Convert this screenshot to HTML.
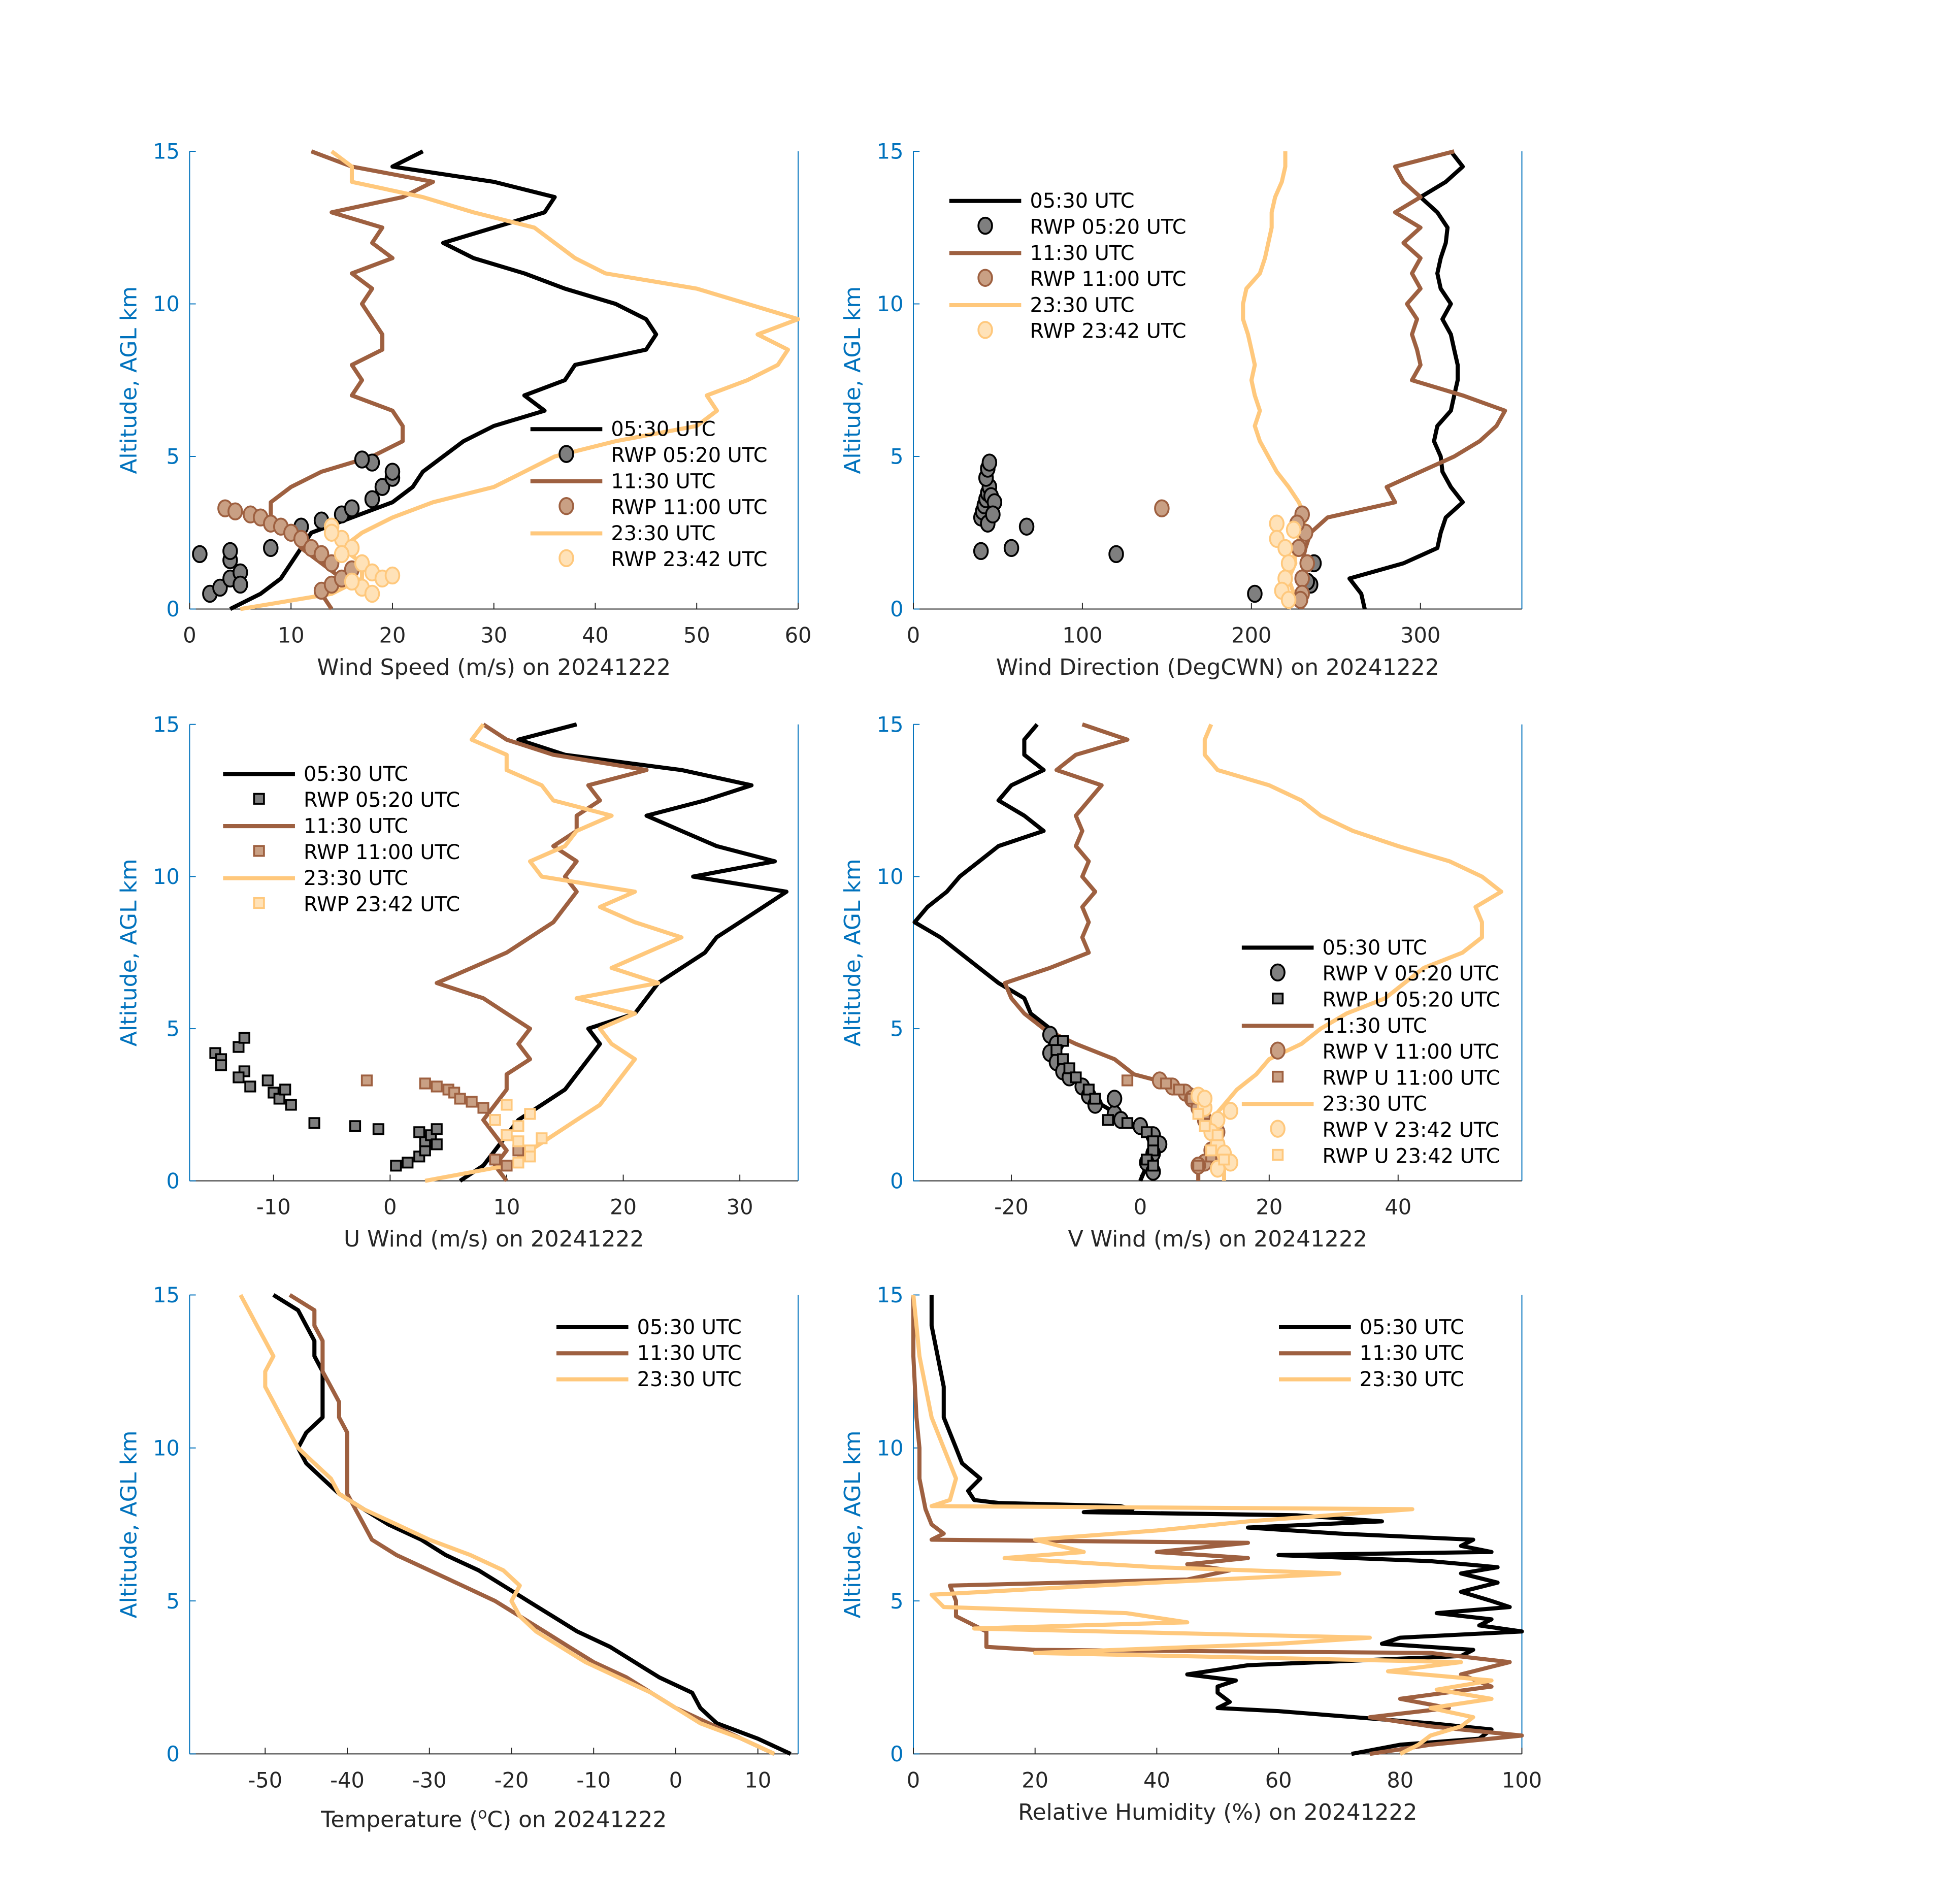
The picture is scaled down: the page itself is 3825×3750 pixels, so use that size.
<!DOCTYPE html>
<html><head><meta charset="utf-8">
<style>
html,body{margin:0;padding:0;background:#fff;}
svg{display:block;}
text{font-family:"DejaVu Sans","Liberation Sans",sans-serif;}
</style></head>
<body>
<svg id="fig" width="3825" height="3750" viewBox="0 0 1567 1535" preserveAspectRatio="none" xmlns="http://www.w3.org/2000/svg"></svg>
<script>
// ---- data ----
const alts = [0,0.5,1,1.5,2,2.5,3,3.5,4,4.5,5,5.5,6,6.5,7,7.5,8,8.5,9,9.5,10,10.5,11,11.5,12,12.5,13,13.5,14,14.5,15];
const spd0530 = [4,7,9,10,11,12,16,20,22,23,25,27,30,35,33,37,38,45,46,45,42,37,33,28,25,30,35,36,30,20,23];
const spd1130 = [14,13,15,13,11,10,8,8,10,13,18,21,21,20,16,17,16,19,19,18,17,18,16,20,18,19,14,21,24,16,12];
const spd2330 = [5,14,17,17,15,17,20,24,30,33,36,42,50,52,51,55,58,59,56,60,55,50,41,38,36,34,28,23,16,16,14];
const dir0530 = [267,265,258,290,310,312,315,325,318,313,312,308,310,318,320,322,322,320,318,313,318,312,310,312,315,316,310,300,315,325,318];
const dir1130 = [230,232,232,230,232,235,245,285,280,300,320,335,345,350,325,295,300,298,295,298,292,300,295,300,290,300,285,300,290,285,320];
const dir2330 = [222,225,222,226,225,230,232,228,222,215,210,205,202,205,202,200,202,200,198,195,195,197,205,208,210,212,212,214,218,220,220];
const u0530 = [6,8,9,10,11,13,15,16,17,18,17,21,22,23,25,27,28,30,32,34,26,33,28,25,22,27,31,25,15,11,16];
const u1130 = [10,9,10,9,8,9,10,10,12,11,12,10,8,4,7,10,12,14,15,16,15,16,14,16,16,18,17,22,14,10,8];
const u2330 = [3,10,12,14,16,18,19,20,21,19,18,21,16,23,19,22,25,21,18,21,13,12,15,16,19,14,13,10,10,7,8];
const v0530 = [0,1,2,1,-2,-6,-8,-10,-13,-14,-14,-17,-18,-22,-25,-28,-31,-35,-33,-30,-28,-25,-22,-15,-18,-22,-20,-15,-18,-18,-16];
const v1130 = [9,9,12,11,10,10,8,-1,-4,-10,-15,-18,-20,-21,-14,-8,-9,-8,-9,-7,-9,-8,-10,-9,-10,-8,-6,-13,-10,-2,-9];
const v2330 = [13,13,12,12,11,13,15,18,20,25,28,32,38,41,44,50,53,53,52,56,53,48,40,33,28,25,20,12,10,10,11];
const t0530 = [14,10,5,3,2,-2,-5,-8,-12,-15,-18,-21,-24,-28,-31,-35,-38,-41,-43,-45,-46,-45,-43,-43,-43,-43,-44,-44,-45,-46,-49];
const t1130 = [12,8,4,0,-3,-6,-10,-13,-16,-19,-22,-26,-30,-34,-37,-38,-39,-40,-40,-40,-40,-40,-41,-41,-42,-43,-43,-43,-44,-44,-47];
const t2330 = [12,8,3,0,-3,-7,-11,-14,-17,-19,-20,-19,-21,-25,-30,-34,-38,-41,-42,-44,-46,-47,-48,-49,-50,-50,-49,-50,-51,-52,-53];
const rhAlt0530 = [0,0.3,0.5,0.8,1.0,1.4,1.5,1.7,2.0,2.2,2.4,2.6,2.9,3.2,3.4,3.6,3.8,4.0,4.2,4.4,4.6,4.8,5.0,5.3,5.6,5.9,6.1,6.3,6.5,6.6,6.8,7.0,7.2,7.4,7.6,7.8,7.9,8.0,8.1,8.2,8.3,8.6,9.0,9.5,10,11,12,13,14,15];
const rh0530 = [72,80,93,95,85,60,50,52,50,50,53,45,55,90,92,77,80,100,93,95,86,98,95,90,96,90,96,85,60,95,90,92,70,55,77,63,28,36,34,14,10,9,11,8,7,5,5,4,3,3];
const rhAlt1130 = [0,0.3,0.6,0.9,1.2,1.5,1.8,2.2,2.6,3.0,3.3,3.4,3.5,4.0,4.5,5.0,5.5,5.7,6.0,6.2,6.4,6.6,6.9,7.0,7.2,7.5,8.0,9,10,11,13,15];
const rh1130 = [75,85,100,85,75,88,80,95,90,98,85,20,12,12,7,7,6,45,52,45,55,40,55,3,5,3,2,1,1,0.5,0,0];
const rhAlt2330 = [0,0.3,0.6,0.9,1.2,1.5,1.8,2.1,2.4,2.7,3.0,3.3,3.6,3.8,4.1,4.3,4.6,4.8,5.2,5.5,5.9,6.1,6.4,6.6,7.0,7.3,7.6,8.0,8.1,8.3,9,10,11,12,13,14,15];
const rh2330 = [80,83,85,90,92,85,95,86,95,78,90,20,60,75,10,45,35,5,3,30,70,40,15,28,20,40,55,82,3,6,7,5,3,2,1,0.5,0];
// RWP markers: values and altitudes
const rwpSpdB = [1,2,3,4,4,5,5,4,8,11,13,15,16,18,19,20,18,17,20];
const rwpSpdBAlt = [1.8,0.5,0.7,1.0,1.6,1.2,0.8,1.9,2.0,2.7,2.9,3.1,3.3,3.6,4.0,4.3,4.8,4.9,4.5];
const rwpSpdM = [3.5,4.5,6,7,8,9,10,11,12,13,14,13,14,15,16];
const rwpSpdMAlt = [3.3,3.2,3.1,3.0,2.8,2.7,2.5,2.3,2.0,1.8,1.5,0.6,0.8,1.0,1.3];
const rwpSpdT = [14,15,16,15,17,18,19,20,17,18,16,14];
const rwpSpdTAlt = [2.7,2.3,2.0,1.8,1.5,1.2,1.0,1.1,0.7,0.5,0.9,2.5];
const rwpDirB = [40,41,42,43,44,45,43,44,45,46,44,48,40,58,67,120,202,235,237,233,47];
const rwpDirBAlt = [3.0,3.2,3.4,3.6,3.8,4.0,4.3,4.6,4.8,3.7,2.8,3.5,1.9,2.0,2.7,1.8,0.5,0.8,1.5,0.9,3.1];
const rwpDirM = [147,230,232,228,233,230,230,227,229];
const rwpDirMAlt = [3.3,3.1,2.5,2.0,1.5,1.0,0.5,2.8,0.3];
const rwpDirT = [215,215,220,222,220,218,222,225];
const rwpDirTAlt = [2.8,2.3,2.0,1.5,1.0,0.6,0.3,2.6];
const rwpUB = [-15,-14.5,-14.5,-13,-12.5,-12.5,-12,-13,-10.5,-10,-9.5,-8.5,-9,-6.5,-3,-1,0.5,1.5,2.5,3,3,3.5,4,2.5,4];
const rwpUBAlt = [4.2,4.0,3.8,4.4,4.7,3.6,3.1,3.4,3.3,2.9,2.7,2.5,3.0,1.9,1.8,1.7,0.5,0.6,0.8,1.0,1.3,1.5,1.2,1.6,1.7];
const rwpUM = [-2,3,4,5,5.5,6,7,8,9,10,11,9,10];
const rwpUMAlt = [3.3,3.2,3.1,3.0,2.9,2.7,2.6,2.4,2.0,1.5,1.0,0.7,0.5];
const rwpUT = [9,10,11,12,13,11,12,10,12,11];
const rwpUTAlt = [2.0,1.5,1.3,1.0,1.4,0.6,0.8,2.5,2.2,1.8];
const rwpVB = [-14,-13,-14,-13,-12,-11,-9,-8,-7,-4,-3,0,2,3,2,1,2,-4];
const rwpVBAlt = [4.8,4.5,4.2,3.9,3.6,3.4,3.1,2.8,2.5,2.2,2.0,1.8,1.5,1.2,0.9,0.6,0.3,2.7];
const rwpVBsq = [-12,-13,-12,-11,-10,-8,-7,-5,-2,1,2,2,1,2];
const rwpVBsqAlt = [4.6,4.3,4.0,3.7,3.4,3.0,2.7,2.0,1.9,1.6,1.3,1.0,0.7,0.5];
const rwpVM = [3,5,7,8,9,10,12,11,10,9,12];
const rwpVMAlt = [3.3,3.1,2.9,2.7,2.4,2.0,1.6,1.0,0.6,0.5,0.8];
const rwpVMsq = [-2,4,6,8,10,11,12,11,9];
const rwpVMsqAlt = [3.3,3.2,3.0,2.7,2.2,1.7,1.2,0.8,0.5];
const rwpVT = [9,10,12,11,12,13,14,12,10,14];
const rwpVTAlt = [2.8,2.4,2.0,1.6,1.2,0.9,0.6,0.4,2.7,2.3];
const rwpVTsq = [9,10,12,11,13];
const rwpVTsqAlt = [2.2,1.8,1.5,1.0,0.7];

// ---- drawing ----
const NS='http://www.w3.org/2000/svg';
const svg=document.getElementById('fig');
const C={k:'#000000',m:'#9E6040',t:'#FFC87C'};
const FILL={k:'#7F7F7F',m:'#C9A084',t:'#FFE2B8'};
function mk(tag,attrs,parent){const e=document.createElementNS(NS,tag);for(const k in attrs)e.setAttribute(k,attrs[k]);(parent||svg).appendChild(e);return e;}
const rows=[{top:122,bot:491},{top:584,bot:952},{top:1044,bot:1414}];
const panels=[
 {id:'wind-speed',x0:153,x1:644,min:0,max:60,row:0,ticks:[0,10,20,30,40,50,60],label:'Wind Speed (m/s) on 20241222'},
 {id:'wind-direction',x0:737,x1:1228,min:0,max:360,row:0,ticks:[0,100,200,300],label:'Wind Direction (DegCWN) on 20241222'},
 {id:'u-wind',x0:153,x1:644,min:-17.2,max:35,row:1,ticks:[-10,0,10,20,30],label:'U Wind (m/s) on 20241222'},
 {id:'v-wind',x0:737,x1:1228,min:-35.2,max:59.2,row:1,ticks:[-20,0,20,40],label:'V Wind (m/s) on 20241222'},
 {id:'temperature',x0:153,x1:644,min:-59.2,max:14.9,row:2,ticks:[-50,-40,-30,-20,-10,0,10],label:null},
 {id:'relative-humidity',x0:737,x1:1228,min:0,max:100,row:2,ticks:[0,20,40,60,80,100],label:'Relative Humidity (%) on 20241222'}
];
function sx(p,v){return p.x0+(v-p.min)/(p.max-p.min)*(p.x1-p.x0);}
function sy(p,a){const r=rows[p.row];return r.bot-a/15*(r.bot-r.top);}
function axes(p){
  const r=rows[p.row];
  const g=mk('g',{});
  
  
  mk('line',{x1:p.x0,y1:r.bot,x2:p.x1,y2:r.bot,stroke:'#262626','stroke-width':0.8},g);
  mk('line',{x1:p.x0,y1:r.top,x2:p.x0,y2:r.bot,stroke:'#0072BD','stroke-width':0.8},g);
  mk('line',{x1:p.x1,y1:r.top,x2:p.x1,y2:r.bot,stroke:'#0072BD','stroke-width':0.8},g);
  [0,5,10,15].forEach(a=>{const y=sy(p,a);
    mk('line',{x1:p.x0,y1:y,x2:p.x0+5,y2:y,stroke:'#0072BD','stroke-width':0.8},g);
    const t=mk('text',{x:p.x0-8,y:y+6,'text-anchor':'end','font-size':17,fill:'#0072BD'},g);t.textContent=a;
    });
  p.ticks.forEach(v=>{const x=sx(p,v);
    mk('line',{x1:x,y1:r.bot,x2:x,y2:r.bot-5,stroke:'#262626','stroke-width':0.8},g);
    const t=mk('text',{x:x,y:r.bot+27,'text-anchor':'middle','font-size':17,fill:'#262626'},g);t.textContent=v;
    });
  const yl=mk('text',{x:0,y:0,transform:`translate(${p.x0-43},${(r.top+r.bot)/2}) rotate(-90)`,'text-anchor':'middle','font-size':18,fill:'#0072BD'},g);
  yl.textContent='Altitude, AGL km';
  
  const cx=(p.x0+p.x1)/2;
  let xl;
  if(p.label){xl=mk('text',{x:cx,y:r.bot+53,'text-anchor':'middle','font-size':18,fill:'#262626'},g);xl.textContent=p.label;}
  else{xl=mk('text',{x:cx,y:r.bot+59,'text-anchor':'middle','font-size':18,fill:'#262626'},g);
    xl.innerHTML='Temperature (<tspan dy="-7" font-size="12">o</tspan><tspan dy="7">C) on 20241222</tspan>';}
  
}
function line(p,vals,altArr,c,name,w){
  const pts=vals.map((v,i)=>sx(p,v).toFixed(1)+','+sy(p,altArr[i]).toFixed(1)).join(' ');
  const e=mk('polyline',{points:pts,fill:'none',stroke:C[c],'stroke-width':w||3.3,'stroke-linejoin':'round'});
  
}
function marks(p,vals,altArr,c,shape,name){
  const g=mk('g',{});
  
  vals.forEach((v,i)=>{const x=sx(p,v),y=sy(p,altArr[i]);
    if(shape==='o') mk('ellipse',{cx:x,cy:y,rx:5.5,ry:6.5,fill:FILL[c],stroke:C[c],'stroke-width':1.5},g);
    else mk('rect',{x:x-4,y:y-4,width:8,height:8,fill:FILL[c],stroke:C[c],'stroke-width':1.5},g);});
}
function legend(lx,ty,items){
  const g=mk('g',{});
  
  items.forEach((it,i)=>{const y=ty+i*21;
    if(it.type==='l') mk('line',{x1:lx,y1:y,x2:lx+58,y2:y,stroke:C[it.c],'stroke-width':3.3},g);
    else if(it.type==='o') mk('ellipse',{cx:lx+29,cy:y-1,rx:5.5,ry:6.5,fill:FILL[it.c],stroke:C[it.c],'stroke-width':1.5},g);
    else mk('rect',{x:lx+25,y:y-5,width:8,height:8,fill:FILL[it.c],stroke:C[it.c],'stroke-width':1.5},g);
    const t=mk('text',{x:lx+65,y:y+5.5,'font-size':16.3,fill:'#000'},g);t.textContent=it.s;
    });
}
panels.forEach(axes);
const [P1,P2,P3,P4,P5,P6]=panels;
line(P1,spd0530,alts,'k','speed-0530');line(P1,spd1130,alts,'m','speed-1130');line(P1,spd2330,alts,'t','speed-2330');
marks(P1,rwpSpdB,rwpSpdBAlt,'k','o','rwp-speed-0520');marks(P1,rwpSpdM,rwpSpdMAlt,'m','o','rwp-speed-1100');marks(P1,rwpSpdT,rwpSpdTAlt,'t','o','rwp-speed-2342');
legend(428,346,[{type:'l',c:'k',s:'05:30 UTC'},{type:'o',c:'k',s:'RWP 05:20 UTC'},{type:'l',c:'m',s:'11:30 UTC'},{type:'o',c:'m',s:'RWP 11:00 UTC'},{type:'l',c:'t',s:'23:30 UTC'},{type:'o',c:'t',s:'RWP 23:42 UTC'}]);
line(P2,dir0530,alts,'k','dir-0530');line(P2,dir1130,alts,'m','dir-1130');line(P2,dir2330,alts,'t','dir-2330');
marks(P2,rwpDirB,rwpDirBAlt,'k','o','rwp-dir-0520');marks(P2,rwpDirM,rwpDirMAlt,'m','o','rwp-dir-1100');marks(P2,rwpDirT,rwpDirTAlt,'t','o','rwp-dir-2342');
legend(766,162,[{type:'l',c:'k',s:'05:30 UTC'},{type:'o',c:'k',s:'RWP 05:20 UTC'},{type:'l',c:'m',s:'11:30 UTC'},{type:'o',c:'m',s:'RWP 11:00 UTC'},{type:'l',c:'t',s:'23:30 UTC'},{type:'o',c:'t',s:'RWP 23:42 UTC'}]);
line(P3,u0530,alts,'k','u-0530');line(P3,u1130,alts,'m','u-1130');line(P3,u2330,alts,'t','u-2330');
marks(P3,rwpUB,rwpUBAlt,'k','s','rwp-u-0520');marks(P3,rwpUM,rwpUMAlt,'m','s','rwp-u-1100');marks(P3,rwpUT,rwpUTAlt,'t','s','rwp-u-2342');
legend(180,624,[{type:'l',c:'k',s:'05:30 UTC'},{type:'s',c:'k',s:'RWP 05:20 UTC'},{type:'l',c:'m',s:'11:30 UTC'},{type:'s',c:'m',s:'RWP 11:00 UTC'},{type:'l',c:'t',s:'23:30 UTC'},{type:'s',c:'t',s:'RWP 23:42 UTC'}]);
line(P4,v0530,alts,'k','v-0530');line(P4,v1130,alts,'m','v-1130');line(P4,v2330,alts,'t','v-2330');
marks(P4,rwpVB,rwpVBAlt,'k','o','rwp-v-0520');marks(P4,rwpVBsq,rwpVBsqAlt,'k','s','rwp-u-in-v-0520');
marks(P4,rwpVM,rwpVMAlt,'m','o','rwp-v-1100');marks(P4,rwpVMsq,rwpVMsqAlt,'m','s','rwp-u-in-v-1100');
marks(P4,rwpVT,rwpVTAlt,'t','o','rwp-v-2342');marks(P4,rwpVTsq,rwpVTsqAlt,'t','s','rwp-u-in-v-2342');
legend(1002,764,[{type:'l',c:'k',s:'05:30 UTC'},{type:'o',c:'k',s:'RWP V 05:20 UTC'},{type:'s',c:'k',s:'RWP U 05:20 UTC'},{type:'l',c:'m',s:'11:30 UTC'},{type:'o',c:'m',s:'RWP V 11:00 UTC'},{type:'s',c:'m',s:'RWP U 11:00 UTC'},{type:'l',c:'t',s:'23:30 UTC'},{type:'o',c:'t',s:'RWP V 23:42 UTC'},{type:'s',c:'t',s:'RWP U 23:42 UTC'}]);
line(P5,t0530,alts,'k','temp-0530');line(P5,t1130,alts,'m','temp-1130');line(P5,t2330,alts,'t','temp-2330');
legend(449,1070,[{type:'l',c:'k',s:'05:30 UTC'},{type:'l',c:'m',s:'11:30 UTC'},{type:'l',c:'t',s:'23:30 UTC'}]);
line(P6,rh0530,rhAlt0530,'k','rh-0530');line(P6,rh1130,rhAlt1130,'m','rh-1130');line(P6,rh2330,rhAlt2330,'t','rh-2330');
legend(1032,1070,[{type:'l',c:'k',s:'05:30 UTC'},{type:'l',c:'m',s:'11:30 UTC'},{type:'l',c:'t',s:'23:30 UTC'}]);
</script>
</body></html>
